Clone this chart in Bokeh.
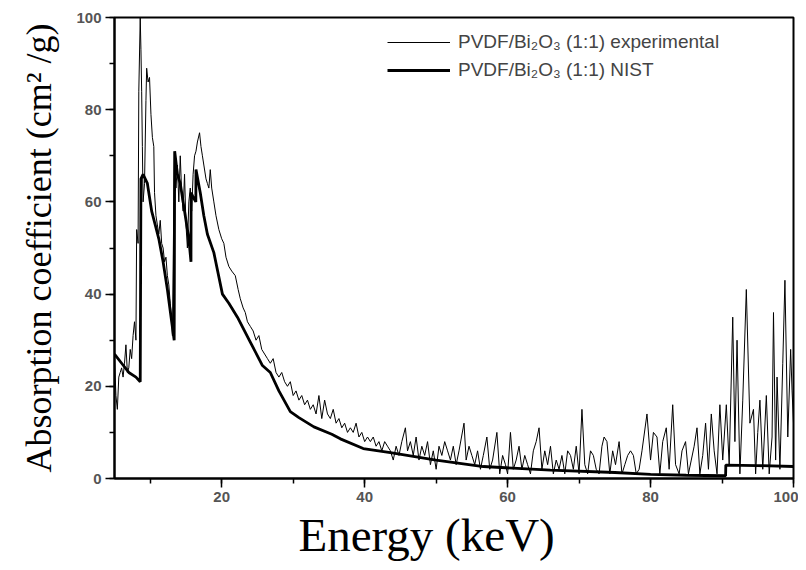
from bokeh.plotting import figure
from bokeh.models import Range1d, SingleIntervalTicker, Legend, LegendItem, Title
from bokeh.embed import file_html
from bokeh.resources import INLINE

# ---------------- data ----------------
exp_energy = [
    5.0, 5.1, 5.2, 5.4, 5.6, 5.8, 6.0, 6.2, 6.4, 6.6, 6.8, 7.0, 7.2, 7.4, 7.6, 7.8, 8.0, 8.1, 8.3, 8.4, 8.6, 8.7, 8.8, 8.9, 9.0, 9.2, 9.4, 9.5, 9.7, 9.9,
    10.1, 10.3, 10.5, 10.6, 10.8, 11.0, 11.2, 11.4, 11.6, 11.8, 12.0, 12.2, 12.4, 12.6, 12.8, 13.0, 13.1, 13.2, 13.3, 13.4,
    13.6, 13.8, 14.0, 14.2, 14.4, 14.6, 14.8, 15.0, 15.2, 15.4, 15.6, 15.8, 16.0, 16.2, 16.4, 16.6, 16.9, 17.1, 17.3, 17.5,
    17.8, 18.0, 18.2, 18.4, 18.6, 18.9, 19.2, 19.6, 20.0, 20.3, 20.6, 21.0, 21.4, 21.9, 22.3, 22.6, 23.0, 23.3, 23.6, 24.0,
    24.4, 24.8, 25.2, 25.6, 26.0, 26.4, 26.8, 27.2, 27.6, 28.0, 28.4, 28.8, 29.2, 29.6, 30.0, 30.4, 30.8, 31.2, 31.6, 32.0,
    32.4, 32.8, 33.2, 33.6, 34.0, 34.4, 34.8, 35.2, 35.6, 36.0, 36.4, 36.8, 37.2, 37.6, 38.0, 38.4, 38.8, 39.2, 39.6, 40.0,
    40.4, 40.8, 41.2, 41.6, 42.0, 42.4, 42.8, 43.2, 43.6, 44.0, 44.4, 44.8, 45.2, 45.7, 46.0, 46.4, 46.8, 47.2, 47.6, 48.0,
    48.4, 48.8, 49.2, 49.6, 50.0, 50.4, 50.8, 51.2, 51.6, 52.0, 52.4, 52.8, 53.2, 53.9, 54.2, 54.6, 55.0, 55.4, 55.8, 56.2,
    56.6, 57.1, 57.5, 57.9, 58.5, 58.9, 59.3, 59.7, 60.0, 60.4, 60.8, 61.2, 61.6, 62.0, 62.4, 62.8, 63.2, 63.6, 64.0, 64.4,
    64.8, 65.2, 65.6, 66.0, 66.4, 66.8, 67.2, 67.6, 68.0, 68.4, 68.8, 69.2, 69.6, 70.0, 70.4, 70.8, 71.2, 71.6, 72.0, 72.4,
    72.8, 73.2, 73.5, 73.9, 74.3, 74.7, 75.1, 75.6, 76.0, 76.4, 76.8, 77.2, 77.6, 78.0, 78.4, 78.8, 79.5, 80.0, 80.4, 80.9,
    81.3, 81.7, 82.2, 82.6, 83.1, 83.5, 84.0, 84.4, 84.9, 85.3, 85.7, 86.1, 86.5, 86.9, 87.3, 87.7, 88.1, 88.5, 88.9, 89.3,
    89.7, 90.1, 90.6, 91.0, 91.5, 91.8, 92.1, 92.5, 92.9, 93.4, 93.9, 94.4, 94.7, 95.0, 95.3, 95.7, 96.2, 96.6, 97.0, 97.2,
    97.5, 97.7, 98.1, 98.5, 98.8, 99.2, 99.6, 99.8, 100.0,
]
exp_mu = [
    26, 22, 18, 15, 22, 23, 24, 22, 25, 29, 23, 24, 28, 26, 31, 34, 30, 54, 51, 84, 100, 93, 84, 72, 60, 64, 82, 89, 86, 87,
    79, 74, 72, 62, 57, 55, 53, 56, 51, 50, 47, 48, 44, 42, 38, 34, 31, 45, 60, 70,
    63, 68, 60, 70, 62, 58, 66, 55, 50, 60, 63, 58, 66, 70, 71, 73, 75, 72, 70, 68,
    65, 64, 63, 67, 63, 60, 57, 54, 52, 51, 48, 46, 45, 44, 41, 39, 37, 36, 34, 33,
    32, 30, 31, 28, 27, 26, 25, 26, 23, 22, 23, 21, 20, 21, 18, 19, 17, 18, 16, 17,
    15, 16, 14, 18, 13, 17, 14, 13, 15, 12, 13, 11, 12, 10, 11, 10, 12, 9, 10, 8,
    9, 8, 9, 7, 8, 6, 8, 7, 6, 4, 7, 5, 8, 11, 6, 8, 5, 9, 4, 7,
    5, 8, 3, 6, 2, 7, 5, 8, 6, 4, 7, 3, 6, 12, 4, 7, 5, 3, 6, 2,
    5, 9, 2, 4, 10, 1, 5, 3, 1, 10, 2, 4, 7, 2, 5, 3, 1, 6, 8, 11,
    2, 6, 3, 7, 1, 4, 2, 5, 1, 6, 5, 2, 7, 1, 15, 3, 1, 6, 5, 2,
    1, 7, 9, 8, 1, 6, 3, 8, 1, 3, 5, 6, 5, 1, 2, 6, 14, 4, 10, 9,
    1, 8, 11, 2, 16, 3, 1, 6, 8, 1, 4, 7, 11, 1, 5, 12, 2, 14, 6, 1,
    16, 4, 16, 3, 35, 8, 30, 1, 17, 41, 12, 15, 1, 10, 17, 2, 18, 1, 9, 36,
    4, 22, 2, 25, 43, 9, 28, 19, 12,
]

nist_energy = [5.0, 6.0, 7.0, 8.0, 8.6, 8.7, 9.0, 9.6, 10.2, 10.7, 11.2, 11.8, 12.4, 13.0, 13.35,
               13.42, 13.8, 14.2, 14.6, 15.0, 15.4, 15.7, 15.72, 16.0, 16.38, 16.4, 17.0, 17.5, 18.0,
               18.9, 20.1, 21.0, 22.2, 24.0, 25.7, 26.8, 28.0, 29.6, 30.8, 32.9, 35.4, 36.6, 39.8,
               43.6, 50.0, 56.6, 66.0, 75.0, 80.0, 85.0, 90.5, 90.53, 95.0, 100.0]
nist_mu = [27, 25, 23, 22, 21, 65, 66, 64, 58, 55, 52, 47, 41, 34, 30,
           71, 66, 64, 60, 56, 52, 47, 62, 61, 60, 67, 62, 57, 53,
           49, 40, 38, 35, 29.6, 24.5, 23, 19, 14.5, 13.2, 11.2, 9.6, 8.6, 6.5,
           5.6, 4.0, 2.6, 1.8, 1.3, 0.9, 0.7, 0.6, 2.9, 2.8, 2.6]

legend_labels = ["PVDF/Bi\u2082O\u2083 (1:1) experimental", "PVDF/Bi\u2082O\u2083 (1:1) NIST"]
x_title = "Energy (keV)"
y_title = "Absorption coefficient (cm\u00b2 /g)"

# ---------------- figure ----------------
p = figure(width=798, height=562, output_backend="svg", toolbar_location=None,
           x_range=Range1d(5, 100), y_range=Range1d(0, 100),
           min_border_left=114, min_border_right=5, min_border_top=17, min_border_bottom=82)
p.background_fill_color = "white"
p.border_fill_color = "white"
p.xgrid.visible = False
p.ygrid.visible = False
p.outline_line_color = "black"
p.outline_line_width = 2
p.outline_line_alpha = 1

p.xaxis.ticker = SingleIntervalTicker(interval=20, num_minor_ticks=2)
p.yaxis.ticker = SingleIntervalTicker(interval=20, num_minor_ticks=2)
for ax in (p.xaxis, p.yaxis):
    ax.axis_line_width = 2
    ax.axis_line_color = "black"
    ax.major_tick_line_width = 1.5
    ax.minor_tick_line_width = 1.5
    ax.major_tick_line_color = "black"
    ax.minor_tick_line_color = "black"
    ax.major_tick_out = 9
    ax.major_tick_in = 0
    ax.minor_tick_out = 5
    ax.minor_tick_in = 0
    ax.major_label_text_font = "Liberation Sans"
    ax.major_label_text_font_style = "bold"
    ax.major_label_text_font_size = "15px"
    ax.major_label_text_color = "#555555"
    ax.major_label_standoff = 4

p.yaxis.axis_label = y_title
p.yaxis.axis_label_text_font = "Liberation Serif"
p.yaxis.axis_label_text_font_style = "normal"
p.yaxis.axis_label_text_font_size = "36px"
p.yaxis.axis_label_text_color = "black"
p.yaxis.axis_label_standoff = 14

r_exp = p.line(exp_energy, exp_mu, line_color="black", line_width=1)
r_nist = p.line(nist_energy, nist_mu, line_color="black", line_width=2.8)

legend = Legend(items=[LegendItem(label=legend_labels[0], renderers=[r_exp]),
                       LegendItem(label=legend_labels[1], renderers=[r_nist])],
                location=(273, 397), padding=0, margin=0, spacing=6,
                glyph_width=63, glyph_height=22, label_height=22, label_standoff=8,
                label_text_font="Liberation Sans", label_text_font_size="19px",
                border_line_color=None, background_fill_alpha=0)
p.add_layout(legend)

xt = Title(text=x_title, align="left", offset=184, text_font="Liberation Serif",
           text_font_size="47px", text_font_style="normal", text_color="black", standoff=4)
p.add_layout(xt, "below")

open("out.html", "w").write(file_html(p, INLINE))
